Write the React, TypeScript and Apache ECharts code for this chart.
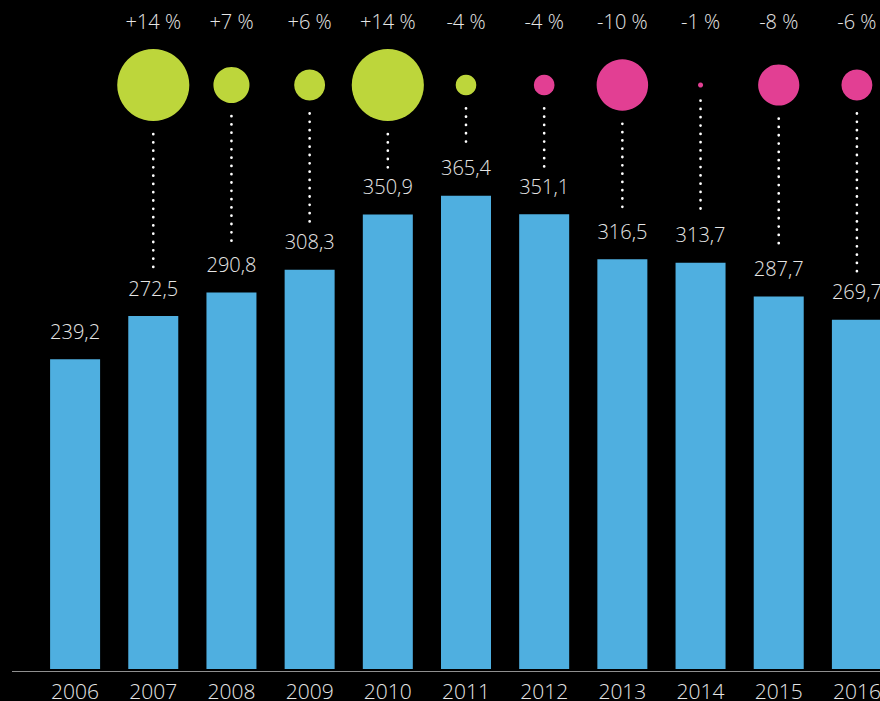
import React, { useEffect, useRef } from "react";
import * as echarts from "echarts";

const years = ["2006", "2007", "2008", "2009", "2010", "2011", "2012", "2013", "2014", "2015", "2016"];
const values = [239.2, 272.5, 290.8, 308.3, 350.9, 365.4, 351.1, 316.5, 313.7, 287.7, 269.7];
// change vs previous year, in % (null for the first year)
const changes: (number | null)[] = [null, 14, 7, 6, 14, 4, -4, -10, -1, -8, -6];
const changeLabels = ["", "+14 %", "+7 %", "+6 %", "+14 %", "-4 %", "-4 %", "-10 %", "-1 %", "-8 %", "-6 %"];

const BLUE = "#4FAFE0";
const GREEN = "#BDD63B";
const PINK = "#E23F93";
const TEXT = "#e6e6e6";
const FONT = "'Open Sans'";
const WEIGHT = 300;

const GRID_LEFT = 36;
const GRID_WIDTH = 860;
const CHART_W = 900;
const BUB_TOP = 48;
const BUB_HEIGHT = 74;
const BUB_Y = BUB_TOP + BUB_HEIGHT / 2;
const SIZE_PER_PCT = 5.15;

const bubbleSize = (c: number | null) => (c == null ? 0 : Math.max(4, Math.abs(c) * SIZE_PER_PCT));

export default function App() {
  const ref = useRef<HTMLDivElement>(null);
  useEffect(() => {
    if (!ref.current) return;
    const chart = echarts.init(ref.current, null, { renderer: "svg" });
    const option: any = {
      animation: false,
      backgroundColor: "#000",
      textStyle: { fontFamily: FONT, fontWeight: WEIGHT },
      grid: [
        { left: GRID_LEFT, width: GRID_WIDTH, top: 151, bottom: 30 },
        { left: GRID_LEFT, width: GRID_WIDTH, top: BUB_TOP, height: BUB_HEIGHT },
      ],
      xAxis: [
        {
          type: "category",
          gridIndex: 0,
          data: years,
          axisLine: { show: false },
          axisTick: { show: false },
          axisLabel: { color: TEXT, fontSize: 21, margin: 11, fontFamily: FONT, fontWeight: WEIGHT },
        },
        {
          type: "category",
          gridIndex: 1,
          position: "top",
          data: changeLabels,
          axisLine: { show: false },
          axisTick: { show: false },
          axisLabel: { color: TEXT, fontSize: 20, margin: 17, fontFamily: FONT, fontWeight: WEIGHT },
        },
      ],
      yAxis: [
        { type: "value", gridIndex: 0, min: 0, max: 400, show: false },
        { type: "value", gridIndex: 1, min: -1, max: 1, show: false },
      ],
      graphic: [
        {
          type: "line",
          shape: { x1: 12, y1: 671.5, x2: CHART_W, y2: 671.5 },
          style: { stroke: "#8f8f8f", lineWidth: 1 },
          z: 0,
        },
      ],
      series: [
        {
          type: "bar",
          xAxisIndex: 0,
          yAxisIndex: 0,
          data: values,
          barWidth: 50,
          itemStyle: { color: BLUE },
          z: 2,
          label: {
            show: true,
            position: "top",
            distance: 18,
            color: TEXT,
            fontSize: 20,
            fontFamily: FONT,
            fontWeight: WEIGHT,
            formatter: (p: any) => String(p.value).replace(".", ","),
          },
        },
        {
          type: "scatter",
          xAxisIndex: 1,
          yAxisIndex: 1,
          data: changes.map((c, i) => (c == null ? "-" : [i, 0])),
          symbol: "circle",
          symbolSize: (_v: any, p: any) => bubbleSize(changes[p.dataIndex]),
          itemStyle: {
            opacity: 1,
            color: (p: any) => ((changes[p.dataIndex] as number) >= 0 ? GREEN : PINK),
          },
          clip: false,
        },
        {
          type: "custom",
          xAxisIndex: 0,
          yAxisIndex: 0,
          clip: false,
          data: values.map((v, i) => [i, v]),
          renderItem: (params: any, api: any) => {
            const i = api.value(0);
            const c = changes[i];
            if (c == null) return null;
            const p = api.coord([i, api.value(1)]);
            const y1 = BUB_Y + bubbleSize(c) / 2 + 13;
            const y2 = p[1] - 47;
            return {
              type: "line",
              shape: { x1: p[0], y1, x2: p[0], y2 },
              style: {
                stroke: "#ffffff",
                lineWidth: 2.7,
                lineCap: "round",
                lineDash: [0.1, 8.2],
              },
            };
          },
          z: 3,
        },
      ],
    };
    chart.setOption(option);
    return () => chart.dispose();
  }, []);
  return (
    <div style={{ position: "fixed", left: 0, top: 0, width: 880, height: 701, overflow: "hidden", background: "#000" }}>
      <div ref={ref} style={{ width: CHART_W, height: 701 }} />
    </div>
  );
}
